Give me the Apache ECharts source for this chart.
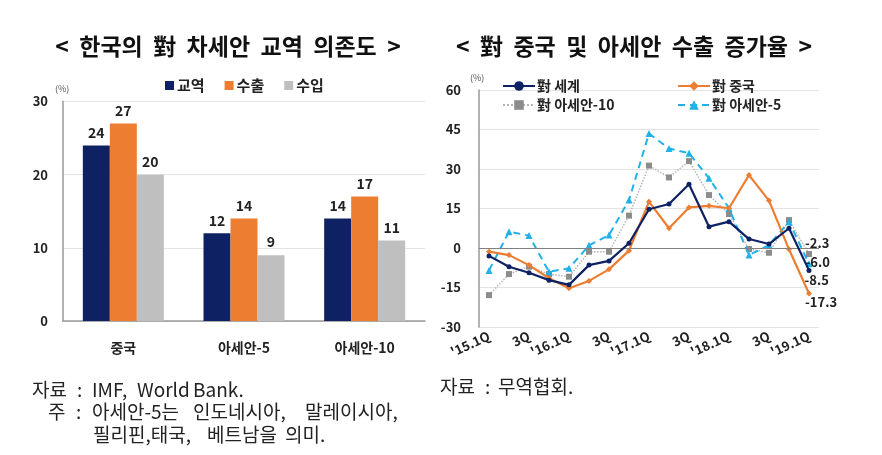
<!DOCTYPE html>
<html><head><meta charset="utf-8">
<script src="https://cdn.jsdelivr.net/npm/echarts@6/dist/echarts.min.js"></script>
<style>html,body{margin:0;padding:0;background:#fff}#c{width:882px;height:455px}</style>
</head><body><div id="c"></div>
<script>
// ---- Left chart data ----
const barCategories = ['중국', '아세안-5', '아세안-10'];
const tradeVals = [24, 12, 14];   // 교역
const exportVals = [27, 14, 17];  // 수출
const importVals = [20, 9, 11];   // 수입

// ---- Right chart data ----
const quarters = ["'15.1Q","2Q","3Q","4Q","'16.1Q","2Q","3Q","4Q","'17.1Q","2Q","3Q","4Q","'18.1Q","2Q","3Q","4Q","'19.1Q"];
const worldVals   = [-3.0, -7.1, -9.4, -12.2, -14.0, -6.5, -4.9, 1.8, 14.7, 16.7, 24.2, 8.1, 10.0, 3.4, 1.5, 7.5, -8.5];
const chinaVals   = [-1.4, -2.7, -6.5, -11.5, -15.3, -12.5, -8.1, -1.0, 17.6, 7.5, 15.4, 16.0, 15.1, 27.7, 18.0, -0.5, -17.3];
const asean10Vals = [-17.9, -9.9, -7.1, -9.9, -10.9, -1.4, -1.4, 12.3, 31.3, 26.8, 33.0, 20.1, 12.9, -0.4, -1.8, 10.6, -2.3];
const asean5Vals  = [-8.5, 6.2, 4.7, -9.0, -7.7, 1.0, 4.9, 18.2, 43.5, 37.8, 36.0, 26.5, 15.1, -2.7, 1.1, 10.0, -6.0];
const xTickLabels = ["'15.1Q","3Q","'16.1Q","3Q","'17.1Q","3Q","'18.1Q","3Q","'19.1Q"];

const FONT = '"Noto Sans CJK KR", "Noto Sans", sans-serif';
const NAVY = '#0e2263', ORANGE = '#ed7d31', GRAY = '#bfbfbf', LBLUE = '#1fb1e8';

function endLabelData(vals, dy) {
  return vals.map((v, i) => i === vals.length - 1 ? {
    value: v,
    label: { show: true, position: 'right', distance: 0, offset: [-7, dy],
      formatter: p => p.value.toFixed(1), fontFamily: FONT, fontWeight: 'bold', fontSize: 13, color: '#222' }
  } : v);
}

const chart = echarts.init(document.getElementById('c'), null, { renderer: 'canvas' });
const barLabel = { show: true, position: 'top', fontFamily: FONT, fontWeight: 'bold', fontSize: 14, color: '#222', distance: 6 };
const noteFont = '19px ' + FONT;

// footnote words: [text, x, y]
const notes = [
  ['자료', 32, 390], [':', 77, 390], ['IMF,', 92, 390], ['World', 137, 390], ['Bank.', 193, 390],
  ['주', 48, 412], [':', 76, 412], ['아세안-5는', 92, 412], ['인도네시아,', 193, 412], ['말레이시아,', 305, 412],
  ['필리핀,태국,', 93, 435], ['베트남을', 207, 435], ['의미.', 285, 435],
  ['자료', 440, 387], [':', 485, 387], ['무역협회.', 498, 387]
];

chart.setOption({
  backgroundColor: '#fff',
  animation: false,
  textStyle: { fontFamily: FONT },
  title: [
    { text: '<  한국의  對  차세안  교역  의존도  >', left: 223, top: 30, textAlign: 'center',
      textStyle: { fontFamily: FONT, fontWeight: 'bold', fontSize: 23, color: '#111' } },
    { text: '<  對  중국  및  아세안  수출  증가율  >', left: 629, top: 30, textAlign: 'center',
      textStyle: { fontFamily: FONT, fontWeight: 'bold', fontSize: 23, color: '#111' } }
  ],
  legend: [
    { data: ['교역', '수출', '수입'], left: 160, top: 73, icon: 'rect', itemWidth: 9, itemHeight: 9, itemGap: 20,
      textStyle: { fontFamily: FONT, fontWeight: 'bold', fontSize: 15, color: '#222', padding: [0, 0, 0, -2] } },
    { data: ['對 세계', '對 아세안-10'], left: 497, top: 74, orient: 'vertical', itemWidth: 32, itemHeight: 12, itemGap: 5,
      textStyle: { fontFamily: FONT, fontWeight: 'bold', fontSize: 14, color: '#222', padding: [0, 0, 0, -3] } },
    { data: ['對 중국', '對 아세안-5'], left: 672, top: 74, orient: 'vertical', itemWidth: 32, itemHeight: 12, itemGap: 5,
      textStyle: { fontFamily: FONT, fontWeight: 'bold', fontSize: 14, color: '#222', padding: [0, 0, 0, -3] } }
  ],
  grid: [
    { left: 63, top: 101.5, width: 362, height: 219.5 },
    { left: 479, top: 90, width: 340, height: 237 }
  ],
  xAxis: [
    { type: 'category', gridIndex: 0, data: barCategories,
      axisLine: { lineStyle: { color: '#999', width: 1.5 } }, axisTick: { show: false },
      axisLabel: { margin: 20, fontFamily: FONT, fontWeight: 'bold', fontSize: 14, color: '#222' } },
    { type: 'category', gridIndex: 1, data: quarters, boundaryGap: true,
      axisLine: { show: false, onZero: false }, axisTick: { show: false },
      axisLabel: { interval: 1, rotate: 25, margin: 8, fontFamily: FONT, fontWeight: 'bold', fontSize: 13, color: '#222',
        formatter: (v, i) => xTickLabels[i / 2] } }
  ],
  yAxis: [
    { type: 'value', gridIndex: 0, min: 0, max: 30, interval: 10,
      axisLine: { show: true, lineStyle: { color: '#999', width: 1.5 } }, axisTick: { show: false },
      splitLine: { lineStyle: { color: '#e3e3e3' } },
      axisLabel: { margin: 15, fontFamily: FONT, fontWeight: 'bold', fontSize: 13, color: '#222' } },
    { type: 'value', gridIndex: 1, min: -30, max: 60, interval: 15,
      axisLine: { show: true, lineStyle: { color: '#999', width: 1.5 } }, axisTick: { show: false },
      splitLine: { lineStyle: { color: '#e3e3e3' } },
      axisLabel: { margin: 18, fontFamily: FONT, fontWeight: 'bold', fontSize: 13, color: '#222' } }
  ],
  series: [
    { name: '교역', type: 'bar', xAxisIndex: 0, yAxisIndex: 0, data: tradeVals, barWidth: 27, barGap: '0%',
      itemStyle: { color: NAVY }, label: barLabel },
    { name: '수출', type: 'bar', xAxisIndex: 0, yAxisIndex: 0, data: exportVals, barWidth: 27, barGap: '0%',
      itemStyle: { color: ORANGE }, label: barLabel },
    { name: '수입', type: 'bar', xAxisIndex: 0, yAxisIndex: 0, data: importVals, barWidth: 27, barGap: '0%',
      itemStyle: { color: GRAY }, label: barLabel },

    { name: '對 아세안-10', type: 'line', xAxisIndex: 1, yAxisIndex: 1, data: endLabelData(asean10Vals, -11),
      symbol: 'rect', symbolSize: 6, lineStyle: { color: '#b5b5b5', width: 1.5, type: 'dotted' },
      itemStyle: { color: '#8c8c8c' }, z: 2,
      markLine: { silent: true, symbol: 'none', label: { show: false },
        lineStyle: { color: '#808080', width: 1.2, type: 'solid' }, data: [{ yAxis: 0 }] } },
    { name: '對 아세안-5', type: 'line', xAxisIndex: 1, yAxisIndex: 1, data: endLabelData(asean5Vals, -2),
      symbol: 'triangle', symbolSize: 7, lineStyle: { color: LBLUE, width: 2, type: [7, 5] },
      itemStyle: { color: LBLUE }, z: 3 },
    { name: '對 중국', type: 'line', xAxisIndex: 1, yAxisIndex: 1, data: endLabelData(chinaVals, 9),
      symbol: 'diamond', symbolSize: 6, lineStyle: { color: ORANGE, width: 2.2 },
      itemStyle: { color: ORANGE }, z: 4 },
    { name: '對 세계', type: 'line', xAxisIndex: 1, yAxisIndex: 1, data: endLabelData(worldVals, 10),
      symbol: 'circle', symbolSize: 5, lineStyle: { color: NAVY, width: 2.2 },
      itemStyle: { color: NAVY }, z: 5 }
  ],
  graphic: [
    { type: 'text', left: 55, top: 84, style: { text: '(%)', font: '9px ' + FONT, fill: '#555' } },
    { type: 'text', left: 470, top: 73, style: { text: '(%)', font: '9px ' + FONT, fill: '#555' } }
  ].concat(notes.map(n => ({
    type: 'text', x: n[1], y: n[2],
    style: { text: n[0], font: noteFont, fill: '#222', verticalAlign: 'middle', align: 'left' }
  })))
});
</script></body></html>
